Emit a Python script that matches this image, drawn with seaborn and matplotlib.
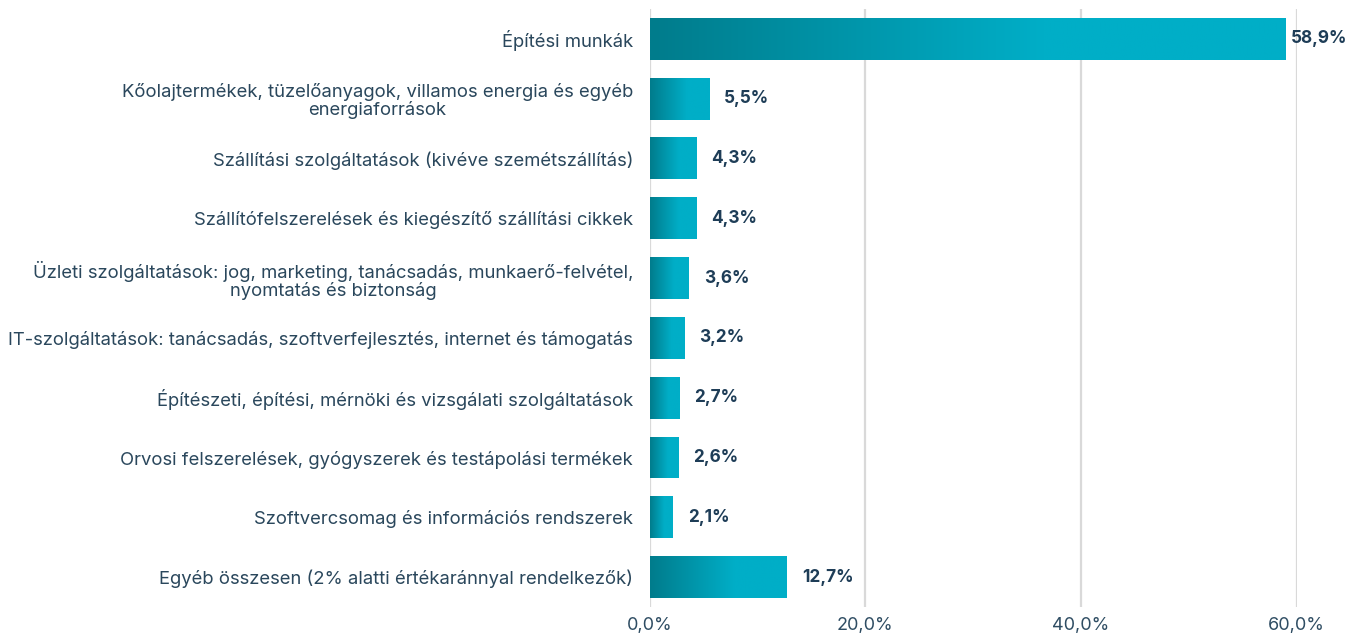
import numpy as np
import pandas as pd
import matplotlib
matplotlib.use("Agg")
import matplotlib.pyplot as plt
from matplotlib.colors import LinearSegmentedColormap
from matplotlib.ticker import FuncFormatter
import seaborn as sns

categories = [
    "Építési munkák",
    "Kőolajtermékek, tüzelőanyagok, villamos energia és egyéb\nenergiaforrások",
    "Szállítási szolgáltatások (kivéve szemétszállítás)",
    "Szállítófelszerelések és kiegészítő szállítási cikkek",
    "Üzleti szolgáltatások: jog, marketing, tanácsadás, munkaerő-felvétel,\nnyomtatás és biztonság",
    "IT-szolgáltatások: tanácsadás, szoftverfejlesztés, internet és támogatás",
    "Építészeti, építési, mérnöki és vizsgálati szolgáltatások",
    "Orvosi felszerelések, gyógyszerek és testápolási termékek",
    "Szoftvercsomag és információs rendszerek",
    "Egyéb összesen (2% alatti értékaránnyal rendelkezők)",
]
values = [58.9, 5.5, 4.3, 4.3, 3.6, 3.2, 2.7, 2.6, 2.1, 12.7]
value_labels = ["58,9%", "5,5%", "4,3%", "4,3%", "3,6%", "3,2%", "2,7%", "2,6%", "2,1%", "12,7%"]
x_ticks = [0, 20, 40, 60]

sns.set_theme(style="white")
plt.rcParams["font.family"] = ["Inter", "DejaVu Sans"]

df = pd.DataFrame({"cat": categories, "val": values})

fig = plt.figure(figsize=(13.48, 6.35), dpi=100)
ax = fig.add_axes([0.482, 0.044, 0.480, 0.942])

sns.barplot(data=df, y="cat", x="val", orient="h", ax=ax, width=0.7,
            color="#00aec7", saturation=1)

cmap = LinearSegmentedColormap.from_list("g", ["#017c8c", "#00aec7"], N=256)
grad_base = np.linspace(0, 1, 256)
grad = np.clip(grad_base / 0.62, 0, 1).reshape(1, -1)

for p in ax.patches:
    x0, y0 = p.get_x(), p.get_y()
    w, h = p.get_width(), p.get_height()
    im = ax.imshow(grad, cmap=cmap, vmin=0, vmax=1, aspect="auto",
                   extent=[x0, x0 + w, y0 + h, y0],
                   interpolation="bilinear", zorder=2)
    im.set_clip_path(p)
    p.set_facecolor("none")
    p.set_edgecolor("none")

ax.set_xlim(0, 60)
ax.set_ylim(len(categories) - 0.5, -0.5)
ax.set_xticks(x_ticks)
ax.xaxis.set_major_formatter(FuncFormatter(lambda v, _: f"{v:.1f}%".replace(".", ",")))
ax.grid(axis="x", color="#d9d9d9", linewidth=1.6, zorder=0)
ax.set_axisbelow(True)
for s in ax.spines.values():
    s.set_visible(False)
ax.tick_params(axis="x", length=0, labelsize=13, labelcolor="#2f4d63", pad=7)
ax.tick_params(axis="y", length=0, labelsize=13.3, labelcolor="#2a475c", pad=12)
for t in ax.get_yticklabels():
    t.set_multialignment("center")
    t.set_linespacing(1.05)
ax.set_xlabel("")
ax.set_ylabel("")

for i, (v, lab) in enumerate(zip(values, value_labels)):
    off = 4 if v > 55 else 11
    ax.annotate(lab, xy=(v, i), xytext=(off, 0), textcoords="offset points",
                va="center", ha="left", fontsize=12.4, fontweight="bold",
                color="#1e3d57", annotation_clip=False)

fig.savefig("out.png", dpi=100)
